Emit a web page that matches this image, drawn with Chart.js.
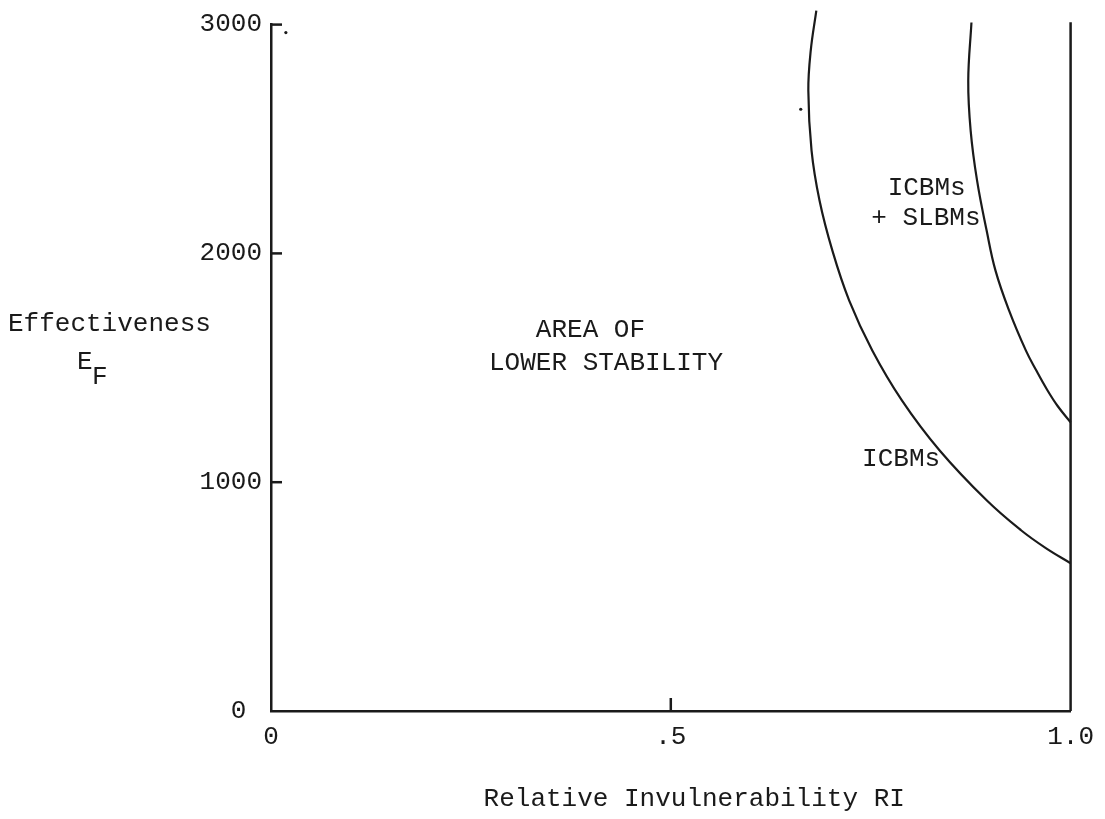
<!DOCTYPE html>
<html>
<head>
<meta charset="utf-8">
<script src="https://cdn.jsdelivr.net/npm/chart.js@4/dist/chart.umd.min.js"></script>
<style>
html,body{margin:0;padding:0;background:#fff;}
#wrap{width:1105px;height:819px;position:relative;}
</style>
</head>
<body>
<div id="wrap"><canvas id="c"></canvas></div>
<script>
// ---- data ----
const icbmX = [0.682, 0.675, 0.672, 0.676, 0.686, 0.702, 0.723, 0.752, 0.789, 0.836, 0.895, 0.938, 0.969, 1.0];
const icbmY = [3061, 2886, 2712, 2450, 2231, 2013, 1795, 1576, 1358, 1140, 921, 790, 712, 646];
const comboX = [0.876, 0.872, 0.875, 0.883, 0.895, 0.906, 0.923, 0.944, 0.957, 0.971, 0.984, 1.0];
const comboY = [3009, 2755, 2537, 2319, 2100, 1926, 1751, 1576, 1489, 1402, 1332, 1262];
const edgeX = [1.0, 1.0];
const edgeY = [0, 3010];
const strayX = [0.6625, 0.0186];
const strayY = [2630, 2965];
const xTicks = [0, 0.5, 1.0];
const xTickLabels = ['0', '.5', '1.0'];
const yTicks = [0, 1000, 2000, 3000];
const yTickLabels = ['0 ', '1000', '2000', '3000'];
const xTitle = '   Relative Invulnerability RI';
const yTitle = 'Effectiveness';
const yTitleSym = 'E';
const yTitleSub = 'F';
const noteTexts = ['AREA OF', 'LOWER STABILITY', 'ICBMs', '+ SLBMs', 'ICBMs'];
const noteX = [0.3995, 0.419, 0.820, 0.819, 0.788];
const noteY = [1664, 1520, 2284, 2153, 1100];

const INK = '#1a1a1a';
const FAMILY = "'Liberation Mono', 'DejaVu Sans Mono', monospace";
const FONT_SIZE = 26;

const pts = (xs, ys) => xs.map((v, i) => ({x: v, y: ys[i]}));

const overlay = {
  id: 'overlay',
  afterDraw(chart) {
    const {ctx, scales: {x, y}} = chart;
    ctx.save();
    ctx.strokeStyle = INK;
    ctx.lineWidth = 2.5;
    ctx.lineCap = 'butt';
    // inward tick marks
    yTicks.forEach(v => {
      if (v === 0) return;
      const py = y.getPixelForValue(v);
      ctx.beginPath(); ctx.moveTo(x.left - 1, py); ctx.lineTo(x.left + 11, py); ctx.stroke();
    });
    xTicks.forEach(v => {
      if (v === 0 || v === 1) return;
      const px = x.getPixelForValue(v);
      ctx.beginPath(); ctx.moveTo(px, y.bottom); ctx.lineTo(px, y.bottom - 13); ctx.stroke();
    });
    // annotations
    ctx.fillStyle = INK;
    ctx.font = FONT_SIZE + 'px ' + FAMILY;
    ctx.textAlign = 'center';
    ctx.textBaseline = 'middle';
    noteTexts.forEach((t, i) => {
      ctx.fillText(t, x.getPixelForValue(noteX[i]), y.getPixelForValue(noteY[i]));
    });
    // horizontal y-axis title
    ctx.textAlign = 'left';
    ctx.fillText(yTitle, 8, 324);
    ctx.fillText(yTitleSym, 77, 362);
    ctx.fillText(yTitleSub, 92, 377);
    ctx.restore();
  }
};

new Chart(document.getElementById('c'), {
  type: 'scatter',
  data: {
    datasets: [
      {data: pts(icbmX, icbmY), showLine: true, borderColor: INK, borderWidth: 2.2, pointRadius: 0, tension: 0.4, clip: false},
      {data: pts(comboX, comboY), showLine: true, borderColor: INK, borderWidth: 2.2, pointRadius: 0, tension: 0.4, clip: false},
      {data: pts(edgeX, edgeY), showLine: true, borderColor: INK, borderWidth: 2.5, pointRadius: 0, tension: 0, clip: false},
      {data: pts(strayX, strayY), showLine: false, pointRadius: 1.6, pointBackgroundColor: INK, pointBorderWidth: 0, clip: false}
    ]
  },
  options: {
    responsive: true,
    maintainAspectRatio: false,
    animation: false,
    events: [],
    layout: {padding: {left: 0, right: 28, top: 24, bottom: 0}},
    plugins: {legend: {display: false}, tooltip: {enabled: false}, title: {display: false}},
    scales: {
      x: {
        type: 'linear', min: 0, max: 1,
        afterBuildTicks: s => { s.ticks = xTicks.map(v => ({value: v})); },
        afterFit: s => { s.height = 108; },
        grid: {display: false, drawTicks: false},
        border: {display: true, color: INK, width: 2.5},
        ticks: {
          padding: 11, color: INK, maxRotation: 0, autoSkip: false,
          font: {family: FAMILY, size: FONT_SIZE},
          callback: (v) => xTickLabels[xTicks.indexOf(v)] ?? ''
        },
        title: {display: true, text: xTitle, color: INK, padding: {top: 0, bottom: 4}, font: {family: FAMILY, size: FONT_SIZE}}
      },
      y: {
        type: 'linear', min: 0, max: 3000,
        afterBuildTicks: s => { s.ticks = yTicks.map(v => ({value: v})); },
        afterFit: s => { s.width = 271; },
        grid: {display: false, drawTicks: false},
        border: {display: true, color: INK, width: 2.5},
        ticks: {
          padding: 9, color: INK, autoSkip: false,
          font: {family: FAMILY, size: FONT_SIZE},
          callback: (v) => yTickLabels[yTicks.indexOf(v)] ?? ''
        }
      }
    }
  },
  plugins: [overlay]
});
</script>
</body>
</html>
